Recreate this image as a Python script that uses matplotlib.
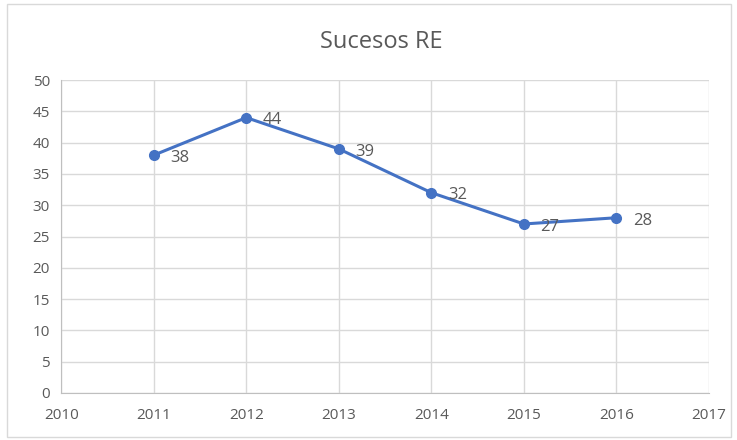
import matplotlib
matplotlib.use("Agg")
import matplotlib.pyplot as plt
from matplotlib.patches import Rectangle

# ---------- Data ----------
years = [2011, 2012, 2013, 2014, 2015, 2016]
sucesos = [38, 44, 39, 32, 27, 28]

line_color = "#4472C4"
text_color = "#595959"
grid_color = "#D9D9D9"

plt.rcParams["font.family"] = ["Open Sans", "DejaVu Sans"]

fig = plt.figure(figsize=(7.37, 4.40), dpi=100)
ax = fig.add_axes([0.083, 0.107, 0.879, 0.711])

# chart border
fig.patches.append(Rectangle((7 / 737, 3 / 440), 724 / 737, 433 / 440,
                             transform=fig.transFigure, fill=False,
                             edgecolor=grid_color, linewidth=1.0))

ax.plot(years, sucesos, color=line_color, linewidth=2.2, marker="o",
        markersize=7, zorder=3)
for x, y in zip(years, sucesos):
    ax.annotate(str(y), (x, y), xytext=(12, -2), textcoords="offset points",
                ha="left", va="center", fontsize=12, color=text_color)

ax.set_xlim(2010, 2017)
ax.set_ylim(0, 50)
ax.set_xticks(range(2010, 2018))
ax.set_yticks(range(0, 51, 5))
ax.grid(True, color=grid_color, linewidth=1.0)
ax.set_axisbelow(True)
for s in ["top", "right"]:
    ax.spines[s].set_visible(False)
ax.spines["left"].set_color("#BFBFBF")
ax.spines["bottom"].set_color("#BFBFBF")
ax.tick_params(length=0, labelsize=11, labelcolor=text_color)
ax.tick_params(axis="x", pad=11)
ax.tick_params(axis="y", pad=8)

fig.text(0.517, 0.905, "Sucesos RE", ha="center", va="center",
         fontsize=17, color=text_color)

fig.savefig("out.png", dpi=100)
